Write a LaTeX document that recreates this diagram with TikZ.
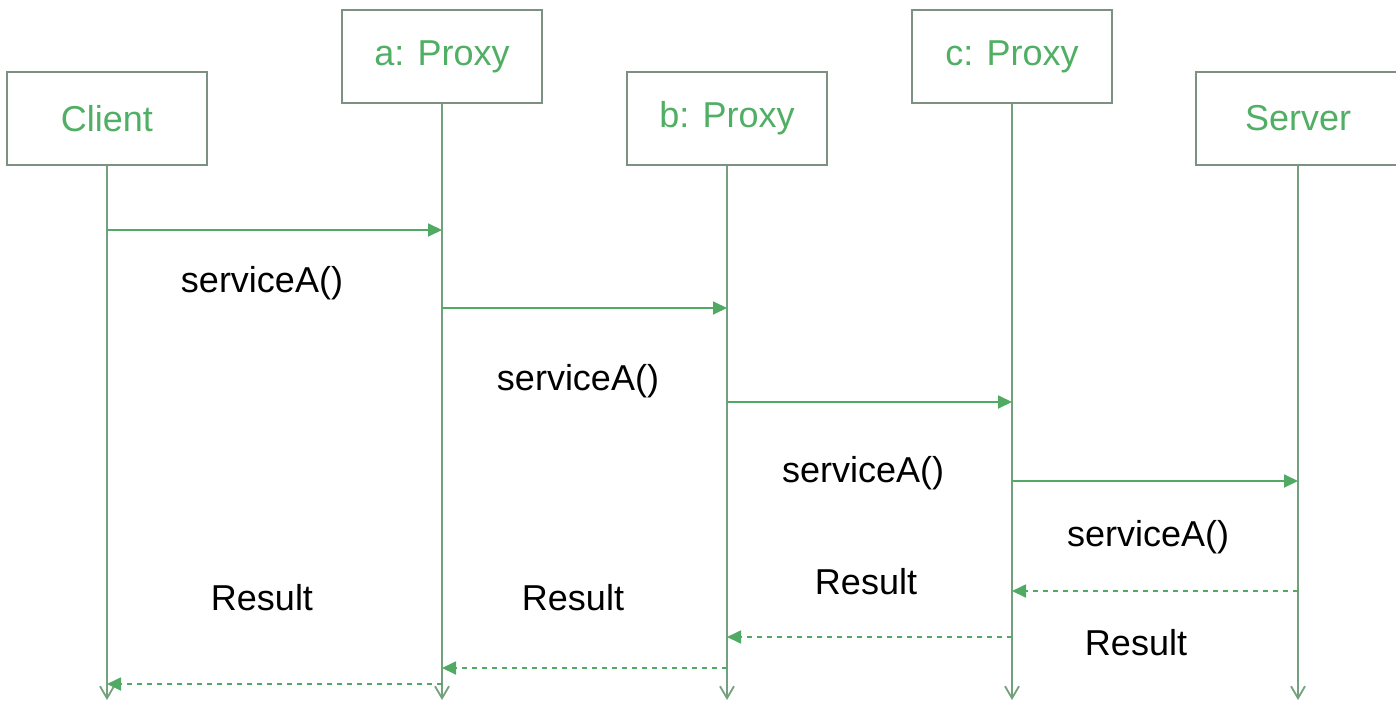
\documentclass[tikz,border=0pt]{standalone}
\usepackage{fontspec}
\setmainfont{Liberation Sans}
\usetikzlibrary{arrows.meta}
\definecolor{boxline}{RGB}{125,145,130}
\definecolor{boxtext}{RGB}{80,175,100}
\definecolor{lifecol}{RGB}{115,160,125}
\definecolor{msgcol}{RGB}{80,170,100}
\tikzset{
  actor/.style={draw=boxline, line width=1.2pt, minimum width=100pt, minimum height=46.5pt, inner sep=0pt, font=\fontsize{18}{20}\selectfont, text=boxtext, fill=white},
  lifeline/.style={draw=lifecol, line width=0.9pt, -{Straight Barb[length=6pt,width=7pt]}},
  msg/.style={draw=msgcol, line width=0.9pt, -{Triangle[length=7pt,width=6.5pt]}},
  reply/.style={msg, dash pattern=on 2.5pt off 2.5pt},
  lbl/.style={font=\fontsize{18}{20}\selectfont, text=black, inner sep=0pt}
}
\begin{document}
\begin{tikzpicture}[x=0.5pt,y=-0.5pt]
\useasboundingbox (0,0) rectangle (1396,706);
\node[actor] (client) at (107,118.5) {Client};
\node[actor] (a) at (442,56.5) {a: Proxy};
\node[actor] (b) at (727,118.5) {b: Proxy};
\node[actor] (c) at (1012,56.5) {c: Proxy};
\node[actor, minimum width=102pt] (server) at (1298,118.5) {Server};
% lifeline ends
\coordinate (ce) at (107,700);
\coordinate (ae) at (442,700);
\coordinate (be) at (727,700);
\coordinate (cee) at (1012,700);
\coordinate (se) at (1298,700);
\draw[lifeline] (client.south) -- (ce);
\draw[lifeline] (a.south) -- (ae);
\draw[lifeline] (b.south) -- (be);
\draw[lifeline] (c.south) -- (cee);
\draw[lifeline] (server.south) -- (se);
% messages
\draw[msg] (client.south |- 0,230) -- (a.south |- 0,230);
\draw[msg] (a.south |- 0,308) -- (b.south |- 0,308);
\draw[msg] (b.south |- 0,402) -- (c.south |- 0,402);
\draw[msg] (c.south |- 0,481) -- (server.south |- 0,481);
\draw[reply] (server.south |- 0,591) -- (c.south |- 0,591);
\draw[reply] (c.south |- 0,637) -- (b.south |- 0,637);
\draw[reply] (b.south |- 0,668) -- (a.south |- 0,668);
\draw[reply] (a.south |- 0,684) -- (client.south |- 0,684);
% labels
\node[lbl] (l1) at (262,283) {serviceA()};
\node[lbl] (l2) at (578,381) {serviceA()};
\node[lbl] (l3) at (863,473) {serviceA()};
\node[lbl] (l4) at (1148,537) {serviceA()};
\node[lbl] (r1) at (262,598) {Result};
\node[lbl] (r2) at (573,598) {Result};
\node[lbl] (r3) at (866,582) {Result};
\node[lbl] (r4) at (1136,643) {Result};
\end{tikzpicture}
\end{document}
